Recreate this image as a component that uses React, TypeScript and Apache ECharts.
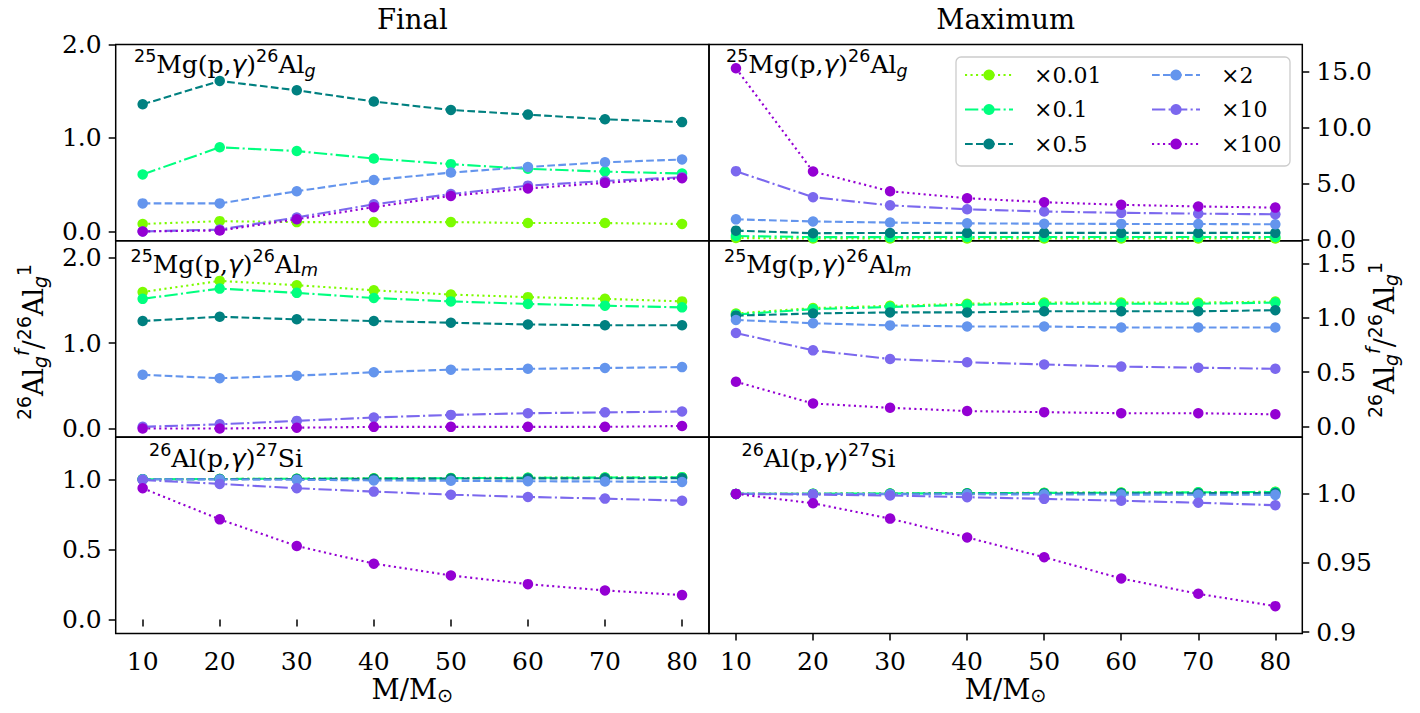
import React, { useEffect, useRef } from "react";
import * as echarts from "echarts";

// Stellar masses (in solar masses) of the models
const masses = [10, 20, 30, 40, 50, 60, 70, 80];
// Rate multiplication factors, in the order of the rows below
const factors = ["×0.01", "×0.1", "×0.5", "×2", "×10", "×100"];

// 26Al_g ratio to the standard-rate value; one row per rate factor
const finalMgAlg = [
  [0.08, 0.11, 0.1, 0.1, 0.1, 0.09, 0.09, 0.08],
  [0.61, 0.9, 0.86, 0.78, 0.72, 0.67, 0.64, 0.62],
  [1.36, 1.61, 1.51, 1.39, 1.3, 1.25, 1.2, 1.17],
  [0.3, 0.3, 0.43, 0.55, 0.63, 0.69, 0.74, 0.77],
  [0.0, 0.02, 0.15, 0.29, 0.4, 0.49, 0.54, 0.58],
  [0.0, 0.01, 0.13, 0.26, 0.38, 0.46, 0.52, 0.57],
];
const maxMgAlg = [
  [0.12, 0.07, 0.07, 0.07, 0.07, 0.07, 0.07, 0.07],
  [0.3, 0.2, 0.2, 0.21, 0.21, 0.21, 0.21, 0.21],
  [0.78, 0.55, 0.57, 0.58, 0.58, 0.58, 0.58, 0.58],
  [1.79, 1.6, 1.5, 1.43, 1.4, 1.38, 1.37, 1.35],
  [6.1, 3.77, 3.04, 2.69, 2.49, 2.37, 2.3, 2.24],
  [15.3, 6.07, 4.3, 3.68, 3.32, 3.09, 2.94, 2.84],
];
const finalMgAlm = [
  [1.6, 1.73, 1.68, 1.62, 1.57, 1.54, 1.52, 1.49],
  [1.52, 1.64, 1.59, 1.53, 1.49, 1.46, 1.44, 1.42],
  [1.26, 1.31, 1.28, 1.26, 1.24, 1.22, 1.21, 1.21],
  [0.63, 0.59, 0.62, 0.66, 0.69, 0.7, 0.71, 0.72],
  [0.02, 0.05, 0.09, 0.13, 0.16, 0.18, 0.19, 0.2],
  [0.0, 0.0, 0.01, 0.02, 0.02, 0.02, 0.02, 0.03],
];
const maxMgAlm = [
  [1.04, 1.09, 1.11, 1.13, 1.14, 1.14, 1.14, 1.15],
  [1.03, 1.08, 1.1, 1.12, 1.13, 1.13, 1.13, 1.14],
  [1.02, 1.04, 1.05, 1.05, 1.06, 1.06, 1.06, 1.07],
  [0.98, 0.95, 0.93, 0.92, 0.92, 0.91, 0.91, 0.91],
  [0.86, 0.7, 0.62, 0.59, 0.57, 0.55, 0.54, 0.53],
  [0.41, 0.21, 0.17, 0.14, 0.13, 0.12, 0.12, 0.11],
];
const finalAlSi = [
  [1.0, 1.002, 1.004, 1.007, 1.009, 1.011, 1.013, 1.015],
  [1.0, 1.002, 1.004, 1.006, 1.008, 1.01, 1.012, 1.014],
  [1.0, 1.001, 1.002, 1.003, 1.005, 1.006, 1.007, 1.008],
  [1.0, 0.999, 0.996, 0.992, 0.989, 0.986, 0.984, 0.981],
  [0.995, 0.967, 0.936, 0.912, 0.89, 0.874, 0.862, 0.847],
  [0.936, 0.714, 0.524, 0.398, 0.314, 0.252, 0.207, 0.174],
];
const maxAlSi = [
  [1.0, 1.0001, 1.0003, 1.0005, 1.0008, 1.001, 1.0012, 1.0015],
  [1.0, 1.0001, 1.0003, 1.0005, 1.0007, 1.0009, 1.0011, 1.0014],
  [1.0, 1.0, 1.0001, 1.0002, 1.0003, 1.0004, 1.0005, 1.0006],
  [1.0, 0.9999, 0.9998, 0.9997, 0.9996, 0.9995, 0.9994, 0.9993],
  [1.0, 0.9995, 0.9988, 0.9976, 0.9964, 0.995, 0.9936, 0.9918],
  [1.0, 0.9932, 0.9821, 0.9685, 0.9542, 0.9388, 0.9277, 0.9188],
];

// Tick positions
const massTicks = [10, 20, 30, 40, 50, 60, 70, 80];
const ticksFinalAlg = [0, 1, 2];
const ticksMaxAlg = [0, 5, 10, 15];
const ticksFinalAlm = [0, 1, 2];
const ticksMaxAlm = [0, 0.5, 1, 1.5];
const ticksFinalAlSi = [0, 0.5, 1];
const ticksMaxAlSi = [0.9, 0.95, 1];

// Texts
const columnTitles = ["Final", "Maximum"];
const reactionLabels = [
  "{sup|25}Mg(p,{it|γ}){sup|26}Al{sub|g}",
  "{sup|25}Mg(p,{it|γ}){sup|26}Al{sub|m}",
  "{sup|26}Al(p,{it|γ}){sup|27}Si",
];
const yAxisTitle = "{sup|26}Al{sub|g}{supi|f}/{sup|26}Al{sub|g}{sup|1}";
const xAxisTitle = "M/M{sub|⊙}";

// Styling
const SERIF = "DejaVu Serif";
const SANS = "DejaVu Sans";
const colors = ["#7cfc00", "#00ff7f", "#008080", "#6495ed", "#7b68ee", "#9400d3"];
const dotted = [2.1, 3.4];
const dashed = [7.7, 3.3];
const dashDot = [13.3, 3.3, 2.1, 3.3];
const dashes = [dotted, dashDot, dashed, dashed, dashDot, dotted];

const colLeft = [115.7, 709];
const rowTop = [44.5, 240.8, 437.2];
const panelW = 593.3;
const panelH = 196.3;

const panels = [
  { data: finalMgAlg, row: 0, col: 0, min: -0.1, max: 2.0, ticks: ticksFinalAlg, lx: 134, ly: 73.3 },
  { data: maxMgAlg, row: 0, col: 1, min: -0.13, max: 17.43, ticks: ticksMaxAlg, lx: 726, ly: 73.3 },
  { data: finalMgAlm, row: 1, col: 0, min: -0.1, max: 2.2, ticks: ticksFinalAlm, lx: 130.5, ly: 273 },
  { data: maxMgAlm, row: 1, col: 1, min: -0.1, max: 1.71, ticks: ticksMaxAlm, lx: 724, ly: 273 },
  { data: finalAlSi, row: 2, col: 0, min: -0.1, max: 1.3, ticks: ticksFinalAlSi, lx: 149, ly: 467 },
  { data: maxAlSi, row: 2, col: 1, min: 0.899, max: 1.041, ticks: ticksMaxAlSi, lx: 741.5, ly: 467 },
];

const fmt = (v: number) => {
  const s = String(Math.round(v * 1000) / 1000);
  return s.includes(".") ? s : s + ".0";
};

const mathRich = (size: number) => {
  const k = size / 25;
  return {
    sup: { fontFamily: SANS, fontSize: size * 0.7, padding: [0, 0, 16.6 * k, 0], lineHeight: 30 * k, fill: "#000" },
    supi: { fontFamily: SANS, fontStyle: "italic", fontSize: size * 0.7, padding: [0, 0, 20 * k, 0], lineHeight: 30 * k, fill: "#000" },
    sub: { fontFamily: SANS, fontStyle: "italic", fontSize: size * 0.7, padding: [12.4 * k, 0, 0, 0], lineHeight: 30 * k, fill: "#000" },
    it: { fontFamily: SANS, fontStyle: "italic", fontSize: size, lineHeight: 30 * k, fill: "#000" },
  };
};

const mathText = (text: string, x: number, y: number, size: number, extra: any = {}) => ({
  type: "text",
  x,
  y,
  silent: true,
  ...extra,
  style: {
    text,
    fontFamily: SERIF,
    fontSize: size,
    lineHeight: (30 * size) / 25,
    fill: "#000",
    align: extra.align || "left",
    verticalAlign: "middle",
    rich: mathRich(size),
  },
});

function buildOption() {
  const grid = panels.map((p) => ({
    left: colLeft[p.col],
    top: rowTop[p.row],
    width: panelW,
    height: panelH,
    show: true,
    borderColor: "#000",
    borderWidth: 1.5,
    backgroundColor: "transparent",
    containLabel: false,
    outerBoundsMode: "none",
  }));

  const xAxis = panels.map((p, i) => ({
    type: "value",
    gridIndex: i,
    min: 6.5,
    max: 83.5,
    axisLine: { show: false },
    splitLine: { show: false },
    axisTick: {
      show: p.row === 2,
      customValues: massTicks,
      length: 7,
      lineStyle: { color: "#000", width: 1.5 },
    },
    axisLabel: {
      show: p.row === 2,
      customValues: massTicks,
      margin: 15,
      color: "#000",
      fontFamily: SERIF,
      fontSize: 25,
      formatter: (v: number) => String(v),
    },
  }));

  const yAxis = panels.map((p, i) => ({
    type: "value",
    gridIndex: i,
    position: p.col === 0 ? "left" : "right",
    min: p.min,
    max: p.max,
    axisLine: { show: false },
    splitLine: { show: false },
    axisTick: {
      show: true,
      customValues: p.ticks,
      length: 7,
      lineStyle: { color: "#000", width: 1.5 },
    },
    axisLabel: {
      show: true,
      customValues: p.ticks,
      margin: 14,
      color: "#000",
      fontFamily: SERIF,
      fontSize: 25,
      lineHeight: 21,
      formatter: fmt,
    },
  }));

  const series: any[] = [];
  panels.forEach((p, i) => {
    factors.forEach((name, j) => {
      series.push({
        type: "line",
        name,
        xAxisIndex: i,
        yAxisIndex: i,
        data: masses.map((m, k) => [m, p.data[j][k]]),
        symbol: "circle",
        symbolSize: 10.5,
        showAllSymbol: true,
        lineStyle: { color: colors[j], width: 2.1, type: dashes[j] },
        itemStyle: { color: colors[j], borderWidth: 0 },
        emphasis: { disabled: true },
      });
    });
  });

  const legendBase = {
    orient: "vertical",
    top: 64,
    itemWidth: 48,
    itemHeight: 14,
    itemGap: 12.5,
    padding: 0,
    selectedMode: false,
    z: 10,
    textStyle: {
      fontFamily: SERIF,
      fontSize: 22,
      lineHeight: 22,
      color: "#000",
      padding: [0, 0, 0, 16],
    },
  };

  const graphic: any[] = [
    {
      type: "rect",
      shape: { x: 956, y: 57, width: 334, height: 109, r: 5 },
      style: { fill: "rgba(255,255,255,0.8)", stroke: "#cccccc", lineWidth: 1.3 },
      z: 5,
      silent: true,
    },
  ];
  columnTitles.forEach((t, c) => {
    graphic.push({
      type: "text",
      x: colLeft[c] + panelW / 2,
      y: 19,
      silent: true,
      style: { text: t, fontFamily: SERIF, fontSize: 27.5, fill: "#000", align: "center", verticalAlign: "middle" },
    });
    graphic.push(mathText(xAxisTitle, colLeft[c] + panelW / 2, 689, 27.5, { align: "center" }));
  });
  panels.forEach((p) => {
    graphic.push(mathText(reactionLabels[p.row], p.lx, p.ly - 8.8, 25, { z: 20 }));
  });
  graphic.push(mathText(yAxisTitle, 33, 342, 27, { align: "center", rotation: Math.PI / 2 }));
  graphic.push(mathText(yAxisTitle, 1384, 340, 27, { align: "center", rotation: Math.PI / 2 }));

  return {
    animation: false,
    backgroundColor: "#fff",
    textStyle: { fontFamily: SERIF },
    grid,
    xAxis,
    yAxis,
    series,
    legend: [
      { ...legendBase, left: 964, data: factors.slice(0, 3) },
      { ...legendBase, left: 1151, data: factors.slice(3) },
    ],
    graphic,
  };
}

export default function App() {
  const ref = useRef<HTMLDivElement>(null);
  useEffect(() => {
    const chart = echarts.init(ref.current!, undefined, { renderer: "svg" });
    chart.setOption(buildOption() as any);
    return () => chart.dispose();
  }, []);
  return (
    <div
      ref={ref}
      style={{ position: "fixed", left: 0, top: 0, width: 1420, height: 713, background: "#fff" }}
    />
  );
}
